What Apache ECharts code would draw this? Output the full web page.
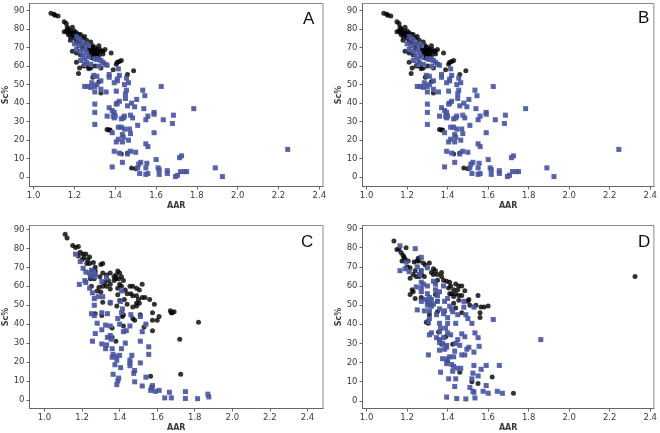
<!DOCTYPE html>
<html><head><meta charset="utf-8">
<style>html,body{margin:0;padding:0;background:#fff}#c{width:660px;height:433px;filter:blur(0.2px)}</style>
<script src="https://cdn.jsdelivr.net/npm/echarts@6/dist/echarts.min.js"></script>
</head><body><div id="c"></div>
<script>
const xTicks=[1.0,1.2,1.4,1.6,1.8,2.0,2.2,2.4];
const yTicks=[0,10,20,30,40,50,60,70,80,90];
const abBlack=[[1.085,88.5],[1.10,88],[1.105,87.5],[1.12,87],[1.15,84],[1.16,83],[1.165,81],[1.15,78.5],[1.17,80],[1.18,79],[1.19,81],[1.20,79],[1.17,77],[1.18,76],[1.19,78],[1.21,78],[1.22,77],[1.23,77],[1.25,76],[1.18,74],[1.20,75],[1.24,75],[1.21,73],[1.23,73],[1.26,74],[1.28,73],[1.29,71],[1.25,72],[1.27,70],[1.29,69],[1.30,70],[1.32,71],[1.31,69],[1.33,68],[1.35,69],[1.34,66.5],[1.38,67],[1.30,67],[1.28,68],[1.29,66],[1.27,66],[1.285,64.5],[1.30,65.5],[1.32,66],[1.19,68],[1.21,67],[1.23,66],[1.21,62],[1.26,60],[1.28,59],[1.27,58.5],[1.30,60],[1.33,59],[1.225,59],[1.245,60],[1.22,56],[1.29,54],[1.32,51.5],[1.33,45.5],[1.41,62],[1.42,62.5],[1.43,63],[1.405,61],[1.39,58],[1.46,55.5],[1.49,57.5],[1.36,25.7],[1.37,25.5],[1.375,25.5],[1.48,5],[1.50,4.5],[1.43,12.5],[1.46,13],[1.30,68],[1.31,67],[1.24,70],[1.16,79],[1.175,78],[1.185,77.5],[1.195,76.5],[1.165,78.5],[1.2,77],[1.285,70],[1.295,68],[1.305,68.5],[1.315,68],[1.325,69],[1.34,68],[1.275,68.5],[1.285,67],[1.31,65.5]];
const abBlue=[[1.21,76],[1.22,75],[1.23,74],[1.20,72],[1.22,71],[1.24,72],[1.21,69],[1.23,68],[1.26,72],[1.27,71],[1.25,69],[1.26,67],[1.24,66],[1.25,64],[1.23,63],[1.26,62],[1.28,61],[1.30,64],[1.32,64],[1.33,63],[1.34,62],[1.35,61],[1.36,60.5],[1.31,63.5],[1.27,65],[1.25,61],[1.32,60],[1.415,58.5],[1.37,55.5],[1.37,54],[1.295,55],[1.31,54.5],[1.42,55],[1.41,53],[1.455,53.5],[1.41,52],[1.395,51],[1.33,52],[1.465,51],[1.285,51],[1.31,50],[1.25,49],[1.265,49],[1.28,48.5],[1.30,49],[1.33,47.5],[1.30,46],[1.355,46],[1.445,50],[1.625,49],[1.455,47],[1.535,47],[1.405,46.5],[1.45,45],[1.545,44],[1.45,42.5],[1.505,42],[1.42,41],[1.41,40],[1.405,39.5],[1.48,40],[1.30,39.5],[1.46,38.5],[1.495,38],[1.37,37.5],[1.54,37],[1.785,37],[1.385,36],[1.395,35],[1.30,35],[1.59,35],[1.59,34],[1.685,33.5],[1.475,33.5],[1.36,33],[1.39,33],[1.40,33],[1.445,33],[1.56,33],[1.395,32],[1.485,32],[1.43,31.5],[1.44,32],[1.55,31],[1.635,31],[1.30,28.5],[1.68,29],[1.51,28],[1.415,27],[1.43,27],[1.445,26],[1.47,26],[1.385,24],[1.59,24],[1.475,23.5],[1.435,23],[1.44,21.5],[1.415,20.5],[1.465,20],[1.405,19],[1.435,19],[1.55,18],[1.56,16.5],[2.245,15],[1.395,14],[1.475,14],[1.50,13.5],[1.42,13],[1.46,12.5],[1.725,11.5],[1.715,10.5],[1.60,9.5],[1.435,8],[1.525,8],[1.555,7.5],[1.515,7],[1.385,5.5],[1.51,5],[1.55,5],[1.61,5],[1.615,4],[1.89,5],[1.655,3.5],[1.655,2],[1.52,2],[1.55,1.5],[1.56,2],[1.615,1.5],[1.72,3],[1.74,3],[1.75,3],[1.705,1],[1.695,0.3],[1.925,0.3]];
const cBlack=[[1.11,87.5],[1.12,85.5],[1.15,81.5],[1.165,80.5],[1.18,81],[1.18,76],[1.19,78],[1.205,77],[1.22,77],[1.21,75],[1.23,74],[1.24,75.5],[1.20,74],[1.225,72],[1.24,72],[1.26,72.5],[1.27,70],[1.31,72],[1.30,71.5],[1.27,68],[1.27,66],[1.245,64],[1.265,64],[1.295,65],[1.31,67],[1.33,66],[1.35,67],[1.37,65],[1.38,66],[1.39,68],[1.40,67],[1.41,65],[1.395,64],[1.38,64],[1.37,63],[1.42,63],[1.34,63],[1.32,62],[1.35,61],[1.33,60],[1.31,60],[1.29,59.5],[1.35,58.5],[1.30,57],[1.28,57.5],[1.25,60],[1.40,61],[1.41,60],[1.43,58],[1.39,59],[1.39,55.5],[1.44,56],[1.455,60],[1.47,60],[1.49,59],[1.52,61],[1.505,58],[1.46,56],[1.47,55],[1.49,55],[1.50,53],[1.52,54],[1.535,54],[1.56,53],[1.585,50.5],[1.49,51],[1.505,51],[1.47,49],[1.49,49.5],[1.44,50.5],[1.385,49.5],[1.35,51],[1.31,51.5],[1.40,52.5],[1.425,53],[1.575,46],[1.51,45],[1.42,45],[1.415,44],[1.305,44.5],[1.27,45.5],[1.48,42],[1.47,43],[1.575,42],[1.60,42],[1.61,44],[1.67,47],[1.675,46],[1.69,46.5],[1.68,46],[1.42,39],[1.53,38.5],[1.82,41],[1.36,38],[1.36,33],[1.575,36.5],[1.38,31],[1.72,32],[1.565,12.5],[1.725,13.5]];
const cBlue=[[1.165,77],[1.19,73],[1.205,69.5],[1.22,67.5],[1.24,67],[1.25,68.5],[1.26,68],[1.245,65.5],[1.27,66],[1.26,65],[1.33,64.5],[1.305,62.5],[1.215,63],[1.22,62],[1.185,61],[1.24,59],[1.255,56.5],[1.285,54.5],[1.265,53.5],[1.31,54.5],[1.35,51.5],[1.41,57.5],[1.405,52],[1.265,50],[1.25,45.5],[1.265,44.5],[1.305,46],[1.335,45.5],[1.415,48],[1.41,46],[1.46,45],[1.51,44],[1.39,43],[1.28,40.5],[1.325,39.5],[1.35,39],[1.40,40],[1.54,40],[1.455,39],[1.305,37],[1.42,36],[1.435,36.5],[1.52,36],[1.27,35],[1.335,33],[1.35,34],[1.355,32],[1.255,31],[1.43,30],[1.51,31],[1.305,29.5],[1.33,29],[1.325,27],[1.36,27],[1.41,27],[1.555,28],[1.365,24],[1.38,23],[1.40,23.5],[1.36,22.5],[1.465,23.5],[1.555,24],[1.385,21],[1.455,21],[1.455,19.5],[1.51,19.5],[1.375,18.5],[1.455,18],[1.405,17],[1.48,15.5],[1.475,14],[1.365,13.5],[1.395,11.5],[1.39,10],[1.385,8],[1.48,9.5],[1.54,12],[1.52,7.3],[1.575,7.5],[1.57,6.5],[1.565,5],[1.59,4.5],[1.61,5],[1.665,4],[1.75,4.3],[1.87,3],[1.875,1.5],[1.64,1],[1.675,1],[1.75,0.7],[1.815,0.6]];
const dBlack=[[1.135,83.5],[1.15,79],[1.16,79.5],[1.195,80],[1.17,77.5],[1.18,76],[1.185,75],[1.19,74],[1.205,73],[1.175,73],[1.20,70],[1.215,69.5],[1.235,72.5],[1.25,73],[1.255,74.5],[1.26,73],[1.28,72],[1.31,72],[1.29,71],[1.24,68],[1.27,68],[1.23,66],[1.245,65],[1.26,65],[1.27,66],[1.215,64],[1.285,65],[1.32,67],[1.33,69],[1.34,68],[1.35,66],[1.33,66],[1.37,67],[1.37,65],[1.38,63],[1.35,63],[1.395,62.5],[1.41,62],[1.415,60],[1.44,61],[1.455,60],[1.47,60],[1.405,59],[1.43,58],[1.45,58],[1.485,57.5],[1.42,56],[1.44,56],[1.455,55],[1.47,55],[1.43,54.5],[1.41,56],[1.55,55],[1.505,53],[1.51,50],[1.50,52],[1.455,52.5],[1.43,51],[1.54,50],[1.565,49],[1.58,49],[1.60,49.5],[1.44,48.5],[1.47,46],[1.56,46],[1.56,43.5],[1.225,58],[1.23,57],[1.215,55.5],[1.24,53.5],[1.27,54],[1.35,52],[1.34,55.5],[1.31,45],[1.295,41],[1.305,40.5],[1.355,36],[1.39,33.5],[1.37,29.5],[1.425,29.5],[1.40,21],[1.46,15],[1.62,12.5],[1.52,10],[1.55,9],[1.725,4],[2.325,65],[1.35,46.5]];
const dBlue=[[1.165,81],[1.24,79.5],[1.27,75],[1.195,72.5],[1.25,70],[1.165,68],[1.19,69],[1.21,67.5],[1.27,68],[1.30,69.5],[1.26,66],[1.33,62.5],[1.27,62],[1.28,61],[1.30,60],[1.245,59.5],[1.27,59],[1.34,61],[1.38,60],[1.34,58],[1.36,57],[1.27,57],[1.30,56],[1.35,55],[1.31,54],[1.29,53],[1.32,53],[1.27,52],[1.30,52],[1.31,51],[1.33,50.5],[1.35,52],[1.40,53.5],[1.385,52],[1.30,50],[1.32,49.5],[1.41,49.5],[1.42,48],[1.36,48],[1.48,52],[1.48,49],[1.53,49],[1.25,47.5],[1.285,47],[1.31,47],[1.385,47],[1.38,45.5],[1.345,45],[1.425,46.5],[1.45,45],[1.49,45],[1.50,43],[1.40,43.5],[1.625,42.5],[1.31,43],[1.305,41.5],[1.36,40.5],[1.40,40.5],[1.44,40.5],[1.52,40.5],[1.365,38],[1.39,38],[1.32,35.5],[1.31,34.5],[1.36,36],[1.40,35.5],[1.415,34.5],[1.47,35],[1.535,35.5],[1.485,33.5],[1.345,33],[1.36,32],[1.38,33],[1.55,33],[1.86,32],[1.45,32],[1.36,30.5],[1.375,30],[1.395,29],[1.44,30],[1.46,29],[1.555,28.5],[1.505,28],[1.495,27],[1.36,26.5],[1.385,27],[1.395,28],[1.435,26],[1.53,25.5],[1.305,24],[1.41,23],[1.43,23],[1.47,24],[1.485,24],[1.375,22],[1.40,22],[1.395,19.5],[1.42,19],[1.43,18],[1.45,17],[1.465,17],[1.53,18.5],[1.59,18.5],[1.655,18.5],[1.565,16.5],[1.365,15],[1.425,15.5],[1.525,14.5],[1.55,13],[1.405,11.5],[1.44,11.5],[1.52,11.5],[1.435,7.5],[1.59,8],[1.51,7],[1.525,5],[1.53,4.5],[1.575,5],[1.60,4],[1.645,5],[1.67,4],[1.395,2],[1.445,1.2],[1.49,1],[1.535,1.5]];

const panels=[
 {name:'A',black:abBlack,blue:abBlue,left:29.5,top:3.5,xMin:0.98,xMax:2.418,yMin:-5.06,yMax:93.8,lx:298,ly:6},
 {name:'B',black:abBlack,blue:abBlue,left:362.5,top:3.5,xMin:0.98,xMax:2.418,yMin:-5.06,yMax:93.8,lx:633,ly:5},
 {name:'C',black:cBlack,blue:cBlue,left:29.5,top:225.5,xMin:0.92,xMax:2.483,yMin:-4.6,yMax:92.1,lx:296,ly:229},
 {name:'D',black:dBlack,blue:dBlue,left:362.5,top:225.5,xMin:0.98,xMax:2.418,yMin:-4,yMax:91.6,lx:633,ly:229}
];
const W=293.5,H=183;
const txt='#3a3a3a', font='"DejaVu Sans"';
const opt={animation:false,backgroundColor:'#fff',grid:[],xAxis:[],yAxis:[],series:[],title:[]};
panels.forEach((p,i)=>{
 opt.grid.push({left:p.left,top:p.top,width:W,height:H,show:true,borderColor:'#8a8a8a',borderWidth:1,backgroundColor:'#fff'});
 opt.xAxis.push({gridIndex:i,type:'value',min:p.xMin,max:p.xMax,name:'AAR',nameLocation:'middle',nameGap:15,
  nameTextStyle:{fontFamily:font,fontSize:8,fontWeight:'bold',color:txt},
  splitLine:{show:false},axisLine:{onZero:false,lineStyle:{color:'#666',width:1}},
  axisTick:{length:3,lineStyle:{color:'#666'},customValues:xTicks},
  axisLabel:{fontFamily:font,fontSize:8.5,color:txt,margin:5,customValues:xTicks,formatter:v=>v.toFixed(1)}});
 opt.yAxis.push({gridIndex:i,type:'value',min:p.yMin,max:p.yMax,name:'Sc%',nameLocation:'middle',nameGap:19,
  nameTextStyle:{fontFamily:font,fontSize:8,fontWeight:'bold',color:txt},
  splitLine:{show:false},axisLine:{onZero:false,lineStyle:{color:'#666',width:1}},
  axisTick:{length:3,lineStyle:{color:'#666'},customValues:yTicks},
  axisLabel:{fontFamily:font,fontSize:8.5,color:txt,margin:5,customValues:yTicks,formatter:v=>String(v)}});
 opt.series.push({type:'scatter',xAxisIndex:i,yAxisIndex:i,data:p.black,symbol:'circle',symbolSize:5,itemStyle:{color:'#000'}});
 opt.series.push({type:'scatter',xAxisIndex:i,yAxisIndex:i,data:p.blue,symbol:'rect',symbolSize:5,itemStyle:{color:'#3a4796',borderWidth:0,shadowBlur:1,shadowColor:'#b4bce0'}});
 opt.title.push({text:p.name,left:p.lx,top:p.ly,textStyle:{fontFamily:'"Liberation Sans"',fontSize:17,fontWeight:'normal',color:'#111'}});
});
echarts.init(document.getElementById('c'),null,{renderer:'canvas'}).setOption(opt);
</script></body></html>
